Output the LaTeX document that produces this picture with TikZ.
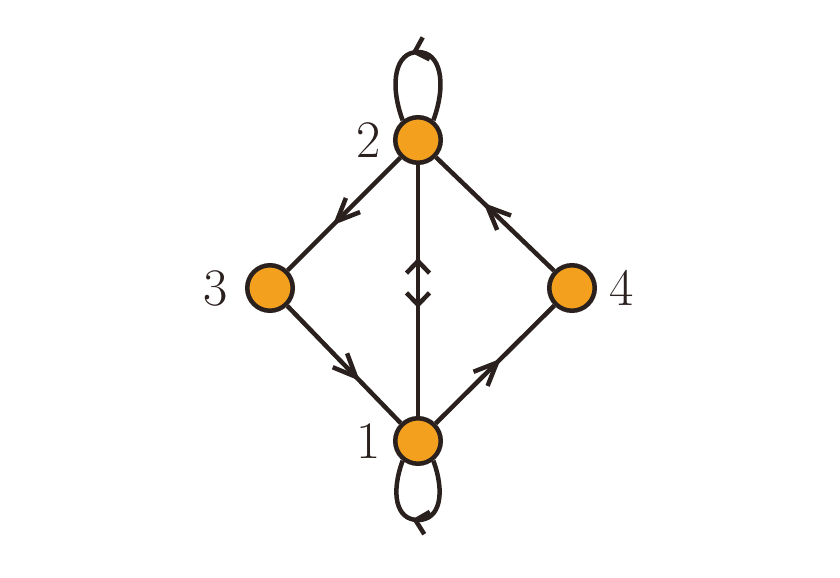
\documentclass[tikz,border=0pt]{standalone}
\usetikzlibrary{arrows.meta,decorations.markings}
\definecolor{vertexfill}{HTML}{F2A01E}
\definecolor{edgeline}{HTML}{2A201E}

\begin{document}
\begin{tikzpicture} [
  color=edgeline,
  line width=0.09cm,
  vertex/.style={circle,draw,fill=vertexfill,minimum size=0.91cm,inner sep=0pt},
  num/.style={inner sep=0pt,font=\fontsize{30}{36}\selectfont},
  longtip/.tip={Straight Barb[length=4.6mm,width=4mm]},
  shorttip/.tip={Straight Barb[length=2.4mm,width=4.6mm]},
  mid/.style={postaction={decorate},
    decoration={markings,mark=at position #1 with {\arrow{longtip}}}},
  loopmid/.style={postaction={decorate},
    decoration={markings,mark=at position 0.54 with {\arrow{shorttip}}}},
  updown/.style={postaction={decorate},
    decoration={markings,
      mark=at position 0.37 with {\arrowreversed{shorttip}},
      mark=at position 0.57 with {\arrow{shorttip}}}}]

\useasboundingbox (-8.36,-2.72) rectangle (8.44,8.82);

\node[vertex,label={[num,label distance=0.2cm]left:1}] (n1) at (0,0) {};
\node[vertex,label={[num,label distance=0.2cm]left:2}] (n2) at (0,6.02) {};
\node[vertex,label={[num,label distance=0.3cm]left:3}] (n3) at (-2.96,3.06) {};
\node[vertex,label={[num,label distance=0.2cm]right:4}] (n4) at (3.08,3.06) {};
\coordinate (top2) at (0,7.78);
\coordinate (top1) at (0,-1.58);

\draw[mid=0.6] (n2) -- (n3);
\draw[mid=0.64] (n3) -- (n1);
\draw[mid=0.55] (n1) -- (n4);
\draw[mid=0.6] (n4) -- (n2);
\draw[updown] (n2) -- (n1);

% loops
\draw[loopmid] (n2.52) .. controls +(70:0.8) and +(0.45,0) .. (top2)
  .. controls +(-0.45,0) and +(110:0.8) .. (n2.128);
\draw[loopmid] (n1.-52) .. controls +(-70:0.7) and +(0.44,0) .. (top1)
  .. controls +(-0.44,0) and +(-110:0.7) .. (n1.-128);
\end{tikzpicture}
\end{document}
